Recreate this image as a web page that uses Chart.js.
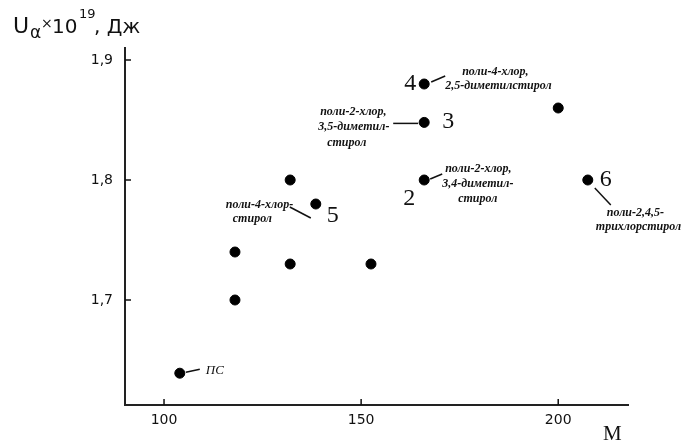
<!DOCTYPE html>
<html lang="ru">
<head>
    <meta charset="utf-8" />
    <title>U alpha vs M</title>
    <script src="https://cdn.jsdelivr.net/npm/chart.js"></script>
    <style>
        body { margin: 0; background: #fff; }
        canvas { display: block; }
    </style>
</head>
<body>
<canvas id="energyChart" width="693" height="448"></canvas>

<script>
    // Data
    var molarMass = [104, 118, 118, 132, 132, 138.5, 152.5, 166, 166, 166, 200, 207.5];
    var energy = [1.639, 1.74, 1.70, 1.80, 1.73, 1.78, 1.73, 1.88, 1.848, 1.80, 1.86, 1.80];
    var xTicks = [100, 150, 200];
    var yTicks = [1.7, 1.8, 1.9];

    // labelled points: index into the arrays above
    var labelIndex = [0, 7, 8, 9, 5, 11];
    var labelNumber = ['', '4', '3', '2', '5', '6'];
    var labelName = [
        ['ПС'],
        ['поли-4-хлор,', '2,5-диметилстирол'],
        ['поли-2-хлор,', '3,5-диметил-', 'стирол'],
        ['поли-2-хлор,', '3,4-диметил-', 'стирол'],
        ['поли-4-хлор-', 'стирол'],
        ['поли-2,4,5-', 'трихлорстирол']
    ];

    // placement of annotation pieces relative to the point (pixels)
    var labelLayout = [
        { num: null, lead: [6, -1, 20, -4], text: [[26, -3]] },
        { num: [-14, 0], lead: [7, -2, 21, -8], text: [[38, -12], [21, 2]] },
        { num: [24, -1], lead: [-6, 1, -31, 1], text: [[-104, -10], [-106, 5], [-97, 21]] },
        { num: [-15, 19], lead: [6, -1, 18, -6], text: [[21, -11], [18, 4], [34, 19]] },
        { num: [17, 12], lead: [-5, 14, -26, 3], text: [[-90, 1], [-83, 15]] },
        { num: [18, 0], lead: [7, 8, 23, 25], text: [[19, 33], [8, 47]] }
    ];

    var points = molarMass.map(function (m, i) { return { x: m, y: energy[i] }; });

    var decorPlugin = {
        id: 'decor',
        afterDraw: function (chart) {
            var ctx = chart.ctx;
            var xs = chart.scales.x, ys = chart.scales.y;
            var area = chart.chartArea;
            ctx.save();
            ctx.strokeStyle = '#111';
            ctx.fillStyle = '#111';

            // inward tick marks
            ctx.lineWidth = 1.5;
            yTicks.forEach(function (v) {
                var py = ys.getPixelForValue(v);
                ctx.beginPath();
                ctx.moveTo(area.left, py);
                ctx.lineTo(area.left + 6, py);
                ctx.stroke();
            });
            xTicks.forEach(function (v) {
                var px = xs.getPixelForValue(v);
                ctx.beginPath();
                ctx.moveTo(px, area.bottom);
                ctx.lineTo(px, area.bottom - 6);
                ctx.stroke();
            });

            // annotations
            labelIndex.forEach(function (idx, k) {
                var px = xs.getPixelForValue(molarMass[idx]);
                var py = ys.getPixelForValue(energy[idx]);
                var lay = labelLayout[k];
                ctx.lineWidth = 1.5;
                ctx.beginPath();
                ctx.moveTo(px + lay.lead[0], py + lay.lead[1]);
                ctx.lineTo(px + lay.lead[2], py + lay.lead[3]);
                ctx.stroke();

                if (lay.num) {
                    ctx.font = '24px "Liberation Serif", serif';
                    ctx.textAlign = 'center';
                    ctx.textBaseline = 'middle';
                    ctx.fillText(labelNumber[k], px + lay.num[0], py + lay.num[1]);
                }

                ctx.textAlign = 'left';
                ctx.textBaseline = 'middle';
                ctx.font = k === 0 ? 'italic 13px "Liberation Serif", serif'
                                   : 'italic bold 12px "Liberation Serif", serif';
                labelName[k].forEach(function (line, j) {
                    ctx.fillText(line, px + lay.text[j][0], py + lay.text[j][1]);
                });
            });

            // axis titles
            ctx.textAlign = 'left';
            ctx.textBaseline = 'alphabetic';
            ctx.font = '22px "DejaVu Sans", sans-serif';
            ctx.fillText('U', 13, 33);
            ctx.font = '17px "DejaVu Sans", sans-serif';
            ctx.fillText('\u03b1', 30, 38);
            ctx.font = '14px "DejaVu Sans", sans-serif';
            ctx.fillText('\u00d7', 41, 28);
            ctx.font = '20px "DejaVu Sans", sans-serif';
            ctx.fillText('10', 52, 33);
            ctx.font = '13px "DejaVu Sans", sans-serif';
            ctx.fillText('19', 79, 18);
            ctx.font = '20px "DejaVu Sans", sans-serif';
            ctx.fillText(', Дж', 94, 33);

            ctx.font = '21px "Liberation Serif", serif';
            ctx.fillText('M', 603, 440);
            ctx.restore();
        }
    };

    var ctx = document.getElementById('energyChart').getContext('2d');
    var energyChart = new Chart(ctx, {
        type: 'scatter',
        data: {
            datasets: [{
                label: 'U',
                data: points,
                backgroundColor: '#000',
                borderColor: '#000',
                pointRadius: 5,
                pointHoverRadius: 5
            }]
        },
        options: {
            responsive: false,
            animation: false,
            layout: { padding: { left: 0, top: 48, right: 65, bottom: 0 } },
            plugins: {
                legend: { display: false },
                tooltip: { enabled: false }
            },
            scales: {
                x: {
                    type: 'linear',
                    min: 90.1,
                    max: 217.7,
                    afterFit: function (scale) { scale.height = 43; },
                    afterBuildTicks: function (scale) {
                        scale.ticks = xTicks.map(function (v) { return { value: v }; });
                    },
                    grid: { display: false, drawTicks: false },
                    border: { display: true, color: '#222', width: 2 },
                    ticks: {
                        color: '#111',
                        padding: 7,
                        font: { family: 'DejaVu Sans', size: 14 }
                    }
                },
                y: {
                    type: 'linear',
                    min: 1.6125,
                    max: 1.91,
                    afterFit: function (scale) { scale.width = 125; },
                    afterBuildTicks: function (scale) {
                        scale.ticks = yTicks.map(function (v) { return { value: v }; });
                    },
                    grid: { display: false, drawTicks: false },
                    border: { display: true, color: '#222', width: 2 },
                    ticks: {
                        color: '#111',
                        padding: 12,
                        font: { family: 'DejaVu Sans', size: 14 },
                        callback: function (value) {
                            return value.toFixed(1).replace('.', ',');
                        }
                    }
                }
            }
        },
        plugins: [decorPlugin]
    });
</script>
</body>
</html>
